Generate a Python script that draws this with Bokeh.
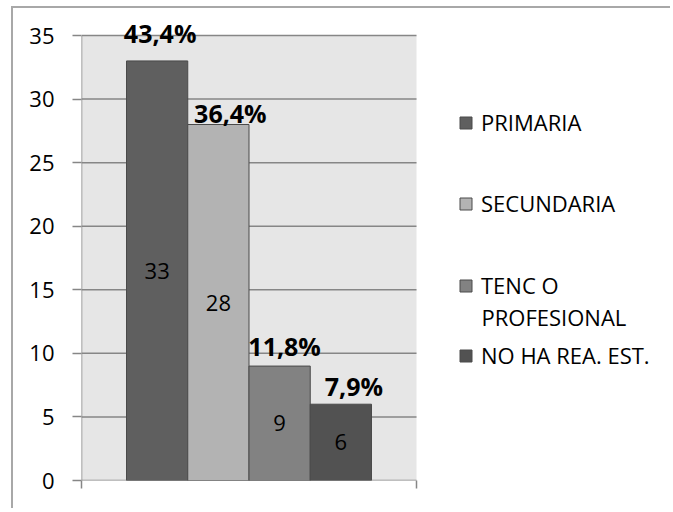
from bokeh.plotting import figure
from bokeh.models import ColumnDataSource, FixedTicker, Legend, LegendItem, Label, Range1d
from bokeh.core.properties import value
from bokeh.embed import file_html
from bokeh.resources import INLINE

# ---- data ----
categories = ["PRIMARIA", "SECUNDARIA", "TENC O\nPROFESIONAL", "NO HA REA. EST."]
counts = [33, 28, 9, 6]
percent_labels = ["43,4%", "36,4%", "11,8%", "7,9%"]
y_ticks = [0, 5, 10, 15, 20, 25, 30, 35]

# ---- styling ----
bar_colors = ["#5f5f5f", "#b3b3b3", "#828282", "#525252"]
pct_dx = [3, 12, 5, 13]
pct_dy = [-28, -12, -20, -18]
FONT = "Open Sans"
GRID = "#868686"
AREA = "#e6e6e6"

W, H = 659, 502
EXTRA_TOP = 23            # frame extends this many px above the grey area
LEFT, RIGHT, TOP, BOTTOM = 68, 5, 27 - EXTRA_TOP, 30
frame_w = W - LEFT - RIGHT
area_w, area_h = 335, 445  # size of the grey plot area in pixels

x_pad = 0.735
x_start, x_end = -0.5 - x_pad, len(counts) - 0.5 + x_pad
x_view_end = x_start + (x_end - x_start) * frame_w / area_w
y_lo, y_hi = y_ticks[0], y_ticks[-1]
y_view_end = y_hi + (y_hi - y_lo) * EXTRA_TOP / area_h

src = ColumnDataSource(dict(
    x=list(range(len(counts))),
    counts=counts,
    half=[c / 2 for c in counts],
    count_txt=[str(c) for c in counts],
    pct=percent_labels,
    color=bar_colors,
    dx=pct_dx,
    dy=pct_dy,
))

p = figure(width=W, height=H,
           x_range=Range1d(x_start, x_view_end),
           y_range=Range1d(y_lo, y_view_end),
           output_backend="svg", toolbar_location=None,
           min_border_left=LEFT, min_border_right=RIGHT,
           min_border_top=TOP, min_border_bottom=BOTTOM,
           styles={"margin-left": "11px", "margin-top": "6px",
                   "border-left": "2px solid #a8a8a8",
                   "border-top": "2px solid #a8a8a8"})

p.background_fill_color = "white"
p.border_fill_color = "white"
p.outline_line_color = None
p.xgrid.visible = False
p.ygrid.visible = False

# grey plot area + horizontal gridlines + value axis line
p.quad(left=x_start, right=x_end, bottom=y_lo, top=y_hi,
       fill_color=AREA, line_color=None)
p.segment(x0=[x_start] * len(y_ticks), x1=[x_end] * len(y_ticks),
          y0=y_ticks, y1=y_ticks, line_color=GRID, line_width=1.5)
p.segment(x0=[x_start], x1=[x_start], y0=[y_lo], y1=[y_hi],
          line_color=GRID, line_width=1.5)

bars = p.vbar(x="x", top="counts", width=1.0, source=src,
              fill_color="color", line_color="#4a4a4a", line_width=1)

p.text(x="x", y="half", text="count_txt", source=src,
       text_align="center", text_baseline="middle",
       text_font=value(FONT), text_font_size=value("22px"), text_color="black")

p.text(x="x", y="counts", text="pct", source=src,
       x_offset="dx", y_offset="dy",
       text_align="center", text_baseline="alphabetic",
       text_font=value(FONT), text_font_style="bold",
       text_font_size=value("25px"), text_color="black")

# y axis (ticks + labels only; its line is drawn above)
ya = p.yaxis[0]
ya.ticker = FixedTicker(ticks=y_ticks)
ya.axis_line_color = None
ya.major_tick_line_color = GRID
ya.major_tick_line_width = 1.5
ya.major_tick_out = 9
ya.major_tick_in = 0
ya.minor_tick_line_color = None
ya.major_label_standoff = 18
ya.major_label_text_font = FONT
ya.major_label_text_font_size = "22px"
ya.major_label_text_color = "black"

# x axis: only the two edge ticks of the category axis
xa = p.xaxis[0]
xa.ticker = FixedTicker(ticks=[x_start, x_end])
xa.axis_line_color = None
xa.major_tick_line_color = GRID
xa.major_tick_line_width = 1.5
xa.major_tick_out = 8
xa.major_tick_in = 0
xa.minor_tick_line_color = None
xa.major_label_text_color = None

# legends (one per entry, to the right of the grey area)
leg_x = 377
leg_bottoms = [343, 262, 180, 110]
for i, cat in enumerate(categories):
    lines = cat.split("\n")
    leg = Legend(items=[LegendItem(label=lines[0], renderers=[bars], index=i)],
                 location=(leg_x, leg_bottoms[i]),
                 padding=0, margin=0, spacing=0,
                 border_line_color=None, background_fill_alpha=0,
                 glyph_width=15, glyph_height=15, label_standoff=8,
                 label_height=30,
                 label_text_font=FONT, label_text_font_size="22px",
                 label_text_color="black")
    p.add_layout(leg)
    for k, extra in enumerate(lines[1:]):
        p.add_layout(Label(x=leg_x + 23, y=leg_bottoms[i] + 15 - 31 * (k + 1),
                           x_units="screen", y_units="screen",
                           text=extra, text_baseline="middle",
                           text_font=FONT, text_font_size="22px",
                           text_color="black"))

open("out.html", "w").write(file_html(p, INLINE))
